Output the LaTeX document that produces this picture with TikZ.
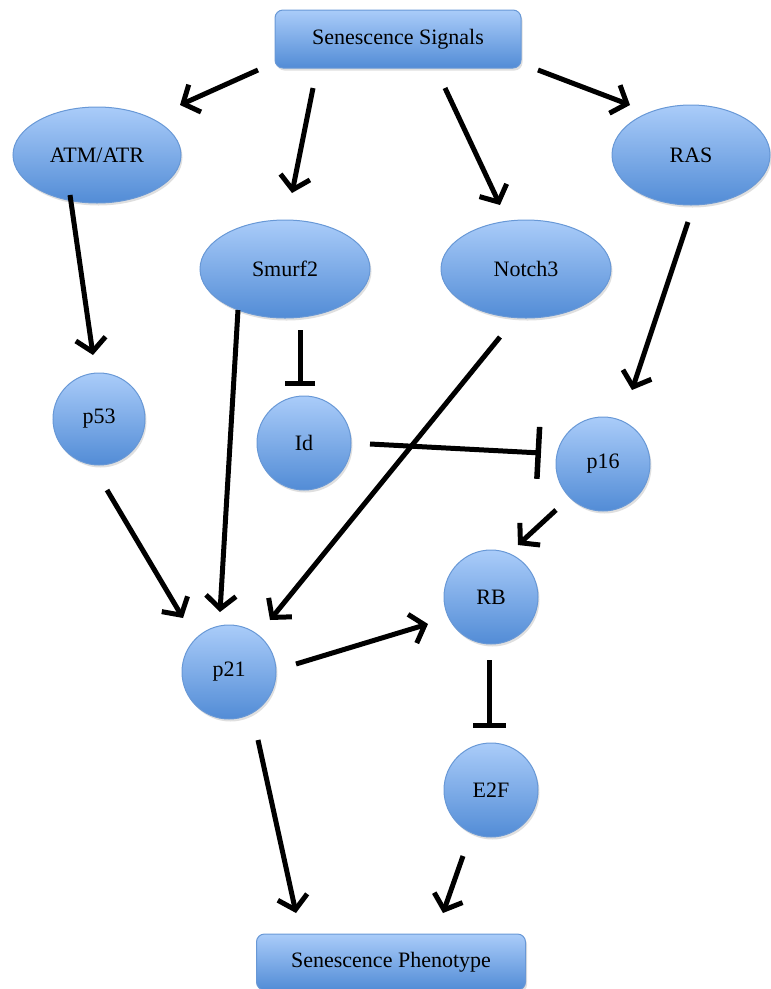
\documentclass[tikz,border=0pt]{standalone}
\usepackage{fontspec}
\setmainfont{Liberation Serif}
\usetikzlibrary{shapes.geometric,arrows.meta,shadows}
\definecolor{boxtop}{RGB}{170,204,249}
\definecolor{boxbot}{RGB}{82,140,214}
\definecolor{boxline}{RGB}{104,152,214}
\tikzset{
  blob/.style={draw=boxline, line width=1pt, top color=boxtop, bottom color=boxbot,
    drop shadow={shadow xshift=1.5pt, shadow yshift=-2.5pt, fill=black!25, opacity=0.5},
    font=\fontsize{22}{26}\selectfont, text=black, inner sep=0pt},
  rbox/.style={blob, rectangle, rounded corners=8pt},
  oval/.style={blob, ellipse},
  disc/.style={blob, circle, minimum size=94pt},
  arr/.style={line width=5pt, -{Straight Barb[length=13pt,width=30pt,line width=5pt]}},
  inh/.style={line width=5pt, -{Bar[width=#1,line width=5.5pt]}},
}
\begin{document}
\begin{tikzpicture}[x=1pt,y=-1pt]
\useasboundingbox (0,0) rectangle (771,989);
\node[rbox, minimum width=246pt, minimum height=58pt] (ss) at (398,39) {Senescence Signals};
\node[oval, minimum width=168pt, minimum height=96pt] (atm) at (97,155) {ATM/ATR};
\node[oval, minimum width=170pt, minimum height=98pt] (smurf) at (285,269) {Smurf2};
\node[oval, minimum width=170pt, minimum height=98pt] (notch) at (526,269) {Notch3};
\node[oval, minimum width=158pt, minimum height=100pt] (ras) at (691,155) {RAS};
\node[disc, minimum size=92pt] (p53) at (99,419) {p53};
\node[disc] (id) at (304,443) {Id};
\node[disc] (p16) at (603,464) {p16};
\node[disc] (rb) at (491,597) {RB};
\node[disc] (p21) at (229,672) {p21};
\node[disc] (e2f) at (491,790) {E2F};
\node[rbox, minimum width=269pt, minimum height=56pt] (sp) at (391,962) {Senescence Phenotype};

\draw[arr] ([shift={(-140,31)}]ss.center) -- ([shift={(83,-50)}]atm.center);
\draw[arr] ([shift={(-85,49)}]ss.center) -- ([shift={(7,-76)}]smurf.center);
\draw[arr] ([shift={(47,49)}]ss.center) -- ([shift={(-26,-64)}]notch.center);
\draw[arr] ([shift={(140,31)}]ss.center) -- ([shift={(-61,-50)}]ras.center);
\draw[arr] ([shift={(-27,40)}]atm.center) -- ([shift={(-6,-64)}]p53.center);
\draw[arr] ([shift={(-3,67)}]ras.center) -- ([shift={(29,-74)}]p16.center);
\draw[inh=30pt] ([shift={(15,61)}]smurf.center) -- ([shift={(-4,-57)}]id.center);
\draw[inh=52pt] ([shift={(66,1)}]id.center) -- ([shift={(-62,-11)}]p16.center);
\draw[arr] ([shift={(-26,68)}]notch.center) -- ([shift={(41,-52)}]p21.center);
\draw[arr] ([shift={(-47,41)}]smurf.center) -- ([shift={(-9,-60)}]p21.center);
\draw[arr] ([shift={(8,71)}]p53.center) -- ([shift={(-46,-54)}]p21.center);
\draw[arr] ([shift={(67,-8)}]p21.center) -- ([shift={(-63,27)}]rb.center);
\draw[arr] ([shift={(-47,46)}]p16.center) -- ([shift={(27,-52)}]rb.center);
\draw[inh=33pt] ([shift={(-2,63)}]rb.center) -- ([shift={(-2,-62)}]e2f.center);
\draw[arr] ([shift={(29,68)}]p21.center) -- ([shift={(-95,-49)}]sp.center);
\draw[arr] ([shift={(-28,66)}]e2f.center) -- ([shift={(52,-49)}]sp.center);
\end{tikzpicture}
\end{document}
